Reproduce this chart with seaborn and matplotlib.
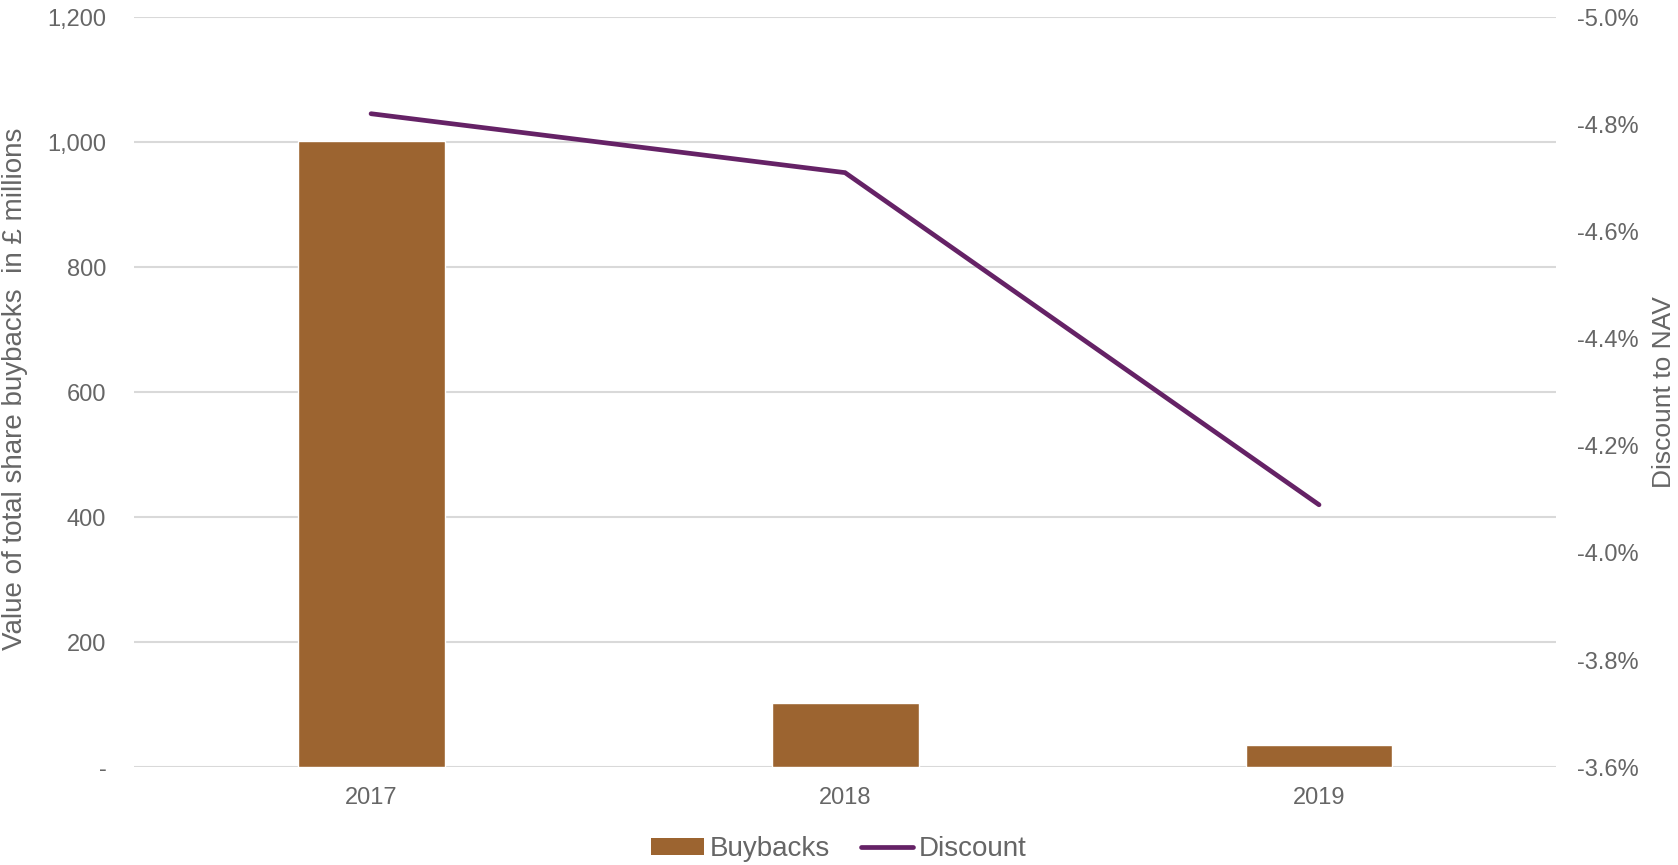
import matplotlib
matplotlib.use("Agg")
import matplotlib.pyplot as plt
from matplotlib.patches import Patch
from matplotlib.lines import Line2D
from matplotlib.ticker import FuncFormatter, FixedLocator
import seaborn as sns

years = ["2017", "2018", "2019"]
buybacks = [1002, 103, 35]          # £ millions
discount = [-4.82, -4.71, -4.09]    # % discount to NAV

bar_color = "#9C6430"
line_color = "#652266"
text_color = "#666666"
grid_color = "#D9D9D9"

sns.set_theme(style="white")
plt.rcParams["font.family"] = ["Liberation Sans", "DejaVu Sans"]

fig = plt.figure(figsize=(16.78, 8.65), dpi=100)
ax = fig.add_axes([0.0799, 0.113, 0.8474, 0.867])

# Buybacks as bars on the left axis
sns.barplot(x=years, y=buybacks, color=bar_color, width=0.31,
            saturation=1, ax=ax, zorder=2)
ax.set_xlim(-0.5, 2.5)
ax.set_ylim(0, 1200)
ax.yaxis.set_major_locator(FixedLocator(range(0, 1201, 200)))
ax.yaxis.set_major_formatter(
    FuncFormatter(lambda v, p: "-" if v == 0 else f"{v:,.0f}"))
ax.grid(axis="y", color=grid_color, linewidth=1.5, zorder=0)
ax.set_axisbelow(True)
for s in ax.spines.values():
    s.set_visible(False)
ax.tick_params(axis="both", length=0, labelsize=17, colors=text_color)
ax.tick_params(axis="y", pad=20)
ax.tick_params(axis="x", pad=14)
ax.set_ylabel("Value of total share buybacks  in £ millions",
              fontsize=20, color=text_color)
ax.yaxis.set_label_coords(-0.0745, 0.505)

# Discount as a line on the reversed right axis
ax2 = ax.twinx()
sns.lineplot(x=[0, 1, 2], y=discount, color=line_color, linewidth=3.4,
             ax=ax2, solid_capstyle="round", solid_joinstyle="miter")
ax2.set_ylim(-3.6, -5.0)
ax2.yaxis.set_major_locator(
    FixedLocator([-5.0, -4.8, -4.6, -4.4, -4.2, -4.0, -3.8, -3.6]))
ax2.yaxis.set_major_formatter(FuncFormatter(lambda v, p: f"{v:.1f}%"))
ax2.set_xlim(-0.5, 2.5)
for s in ax2.spines.values():
    s.set_visible(False)
ax2.tick_params(axis="y", length=0, labelsize=17, colors=text_color, pad=15)
ax2.set_ylabel("Discount to NAV", fontsize=19, color=text_color, rotation=90)
ax2.yaxis.set_label_coords(1.0675, 0.5)
ax2.grid(False)

handles = [Patch(facecolor=bar_color, edgecolor="none"),
           Line2D([0], [0], color=line_color, linewidth=3.4, solid_capstyle="round")]
leg = fig.legend(handles, ["Buybacks", "Discount"], loc="center",
                 bbox_to_anchor=(0.5, 0.0185), ncol=2, frameon=False,
                 fontsize=20, handlelength=1.9, handleheight=0.55,
                 handletextpad=0.2, columnspacing=1.1)
for t in leg.get_texts():
    t.set_color(text_color)

fig.savefig("out.png", dpi=100)
